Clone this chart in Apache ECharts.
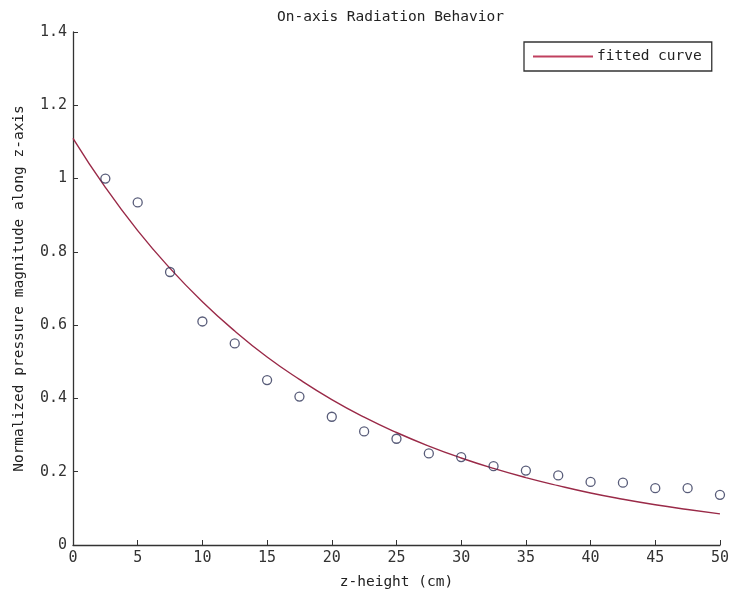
<!DOCTYPE html>
<html>
<head>
<meta charset="utf-8">
<script src="https://cdn.jsdelivr.net/npm/echarts@6/dist/echarts.min.js"></script>
<style>
html,body{margin:0;padding:0;background:#fff;}
#chart{width:732px;height:597px;}
</style>
</head>
<body>
<div id="chart"></div>
<script>
var zHeights = [2.5, 5, 7.5, 10, 12.5, 15, 17.5, 20, 22.5, 25, 27.5, 30, 32.5, 35, 37.5, 40, 42.5, 45, 47.5, 50];
var measured = [1.0, 0.935, 0.745, 0.61, 0.55, 0.45, 0.405, 0.35, 0.31, 0.29, 0.25, 0.24, 0.215, 0.203, 0.19, 0.172, 0.17, 0.155, 0.155, 0.137];
var fitX = [0, 2.5, 5, 7.5, 10, 12.5, 15, 17.5, 20, 22.5, 25, 27.5, 30, 32.5, 35, 37.5, 40, 42.5, 45, 47.5, 50];
var fitY = [1.11, 0.976, 0.858, 0.755, 0.664, 0.584, 0.513, 0.452, 0.397, 0.349, 0.307, 0.270, 0.2375, 0.209, 0.184, 0.162, 0.142, 0.125, 0.110, 0.097, 0.085];
var xTicks = [0, 5, 10, 15, 20, 25, 30, 35, 40, 45, 50];
var yTicks = [0, 0.2, 0.4, 0.6, 0.8, 1, 1.2, 1.4];

var FONT = 'DejaVu Sans Mono';
var chart = echarts.init(document.getElementById('chart'), null, {renderer: 'canvas'});

var scatterData = zHeights.map(function (x, i) { return [x, measured[i]]; });
var fitData = fitX.map(function (x, i) { return [x, fitY[i]]; });

chart.setOption({
  animation: false,
  backgroundColor: '#ffffff',
  title: {
    text: 'On-axis Radiation Behavior',
    left: 272,
    top: 5,
    textStyle: {fontFamily: FONT, fontSize: 14.5, fontWeight: 'normal', color: '#222'}
  },
  grid: {left: 73, right: 11, top: 32, bottom: 52, containLabel: false},
  legend: {
    data: [{name: 'fitted curve', icon: 'rect'}],
    left: 524,
    top: 42,
    itemWidth: 60,
    itemHeight: 2,
    itemGap: 4,
    padding: [7, 10, 7, 9],
    borderColor: '#333',
    borderWidth: 1.3,
    textStyle: {fontFamily: FONT, fontSize: 14.5, color: '#222', padding: [0, 0, 0, -1]}
  },
  xAxis: {
    type: 'value',
    min: 0, max: 50, interval: 5,
    name: 'z-height (cm)',
    nameLocation: 'middle',
    nameGap: 30,
    nameTextStyle: {fontFamily: FONT, fontSize: 14.5, color: '#222'},
    axisLine: {show: true, lineStyle: {color: '#333', width: 1.3}},
    axisTick: {show: true, inside: true, length: 5, lineStyle: {color: '#333'}},
    axisLabel: {
      margin: 6, fontFamily: FONT, fontSize: 15, color: '#333',
      customValues: xTicks,
      formatter: function (v) { return String(v); }
    },
    splitLine: {show: false}
  },
  yAxis: {
    type: 'value',
    min: 0, max: 1.4, interval: 0.2,
    name: 'Normalized pressure magnitude along z-axis',
    nameLocation: 'middle',
    nameGap: 46,
    nameTextStyle: {fontFamily: FONT, fontSize: 14.5, color: '#222'},
    axisLine: {show: true, lineStyle: {color: '#333', width: 1.3}},
    axisTick: {show: true, inside: true, length: 5, lineStyle: {color: '#333'}},
    axisLabel: {
      margin: 6, fontFamily: FONT, fontSize: 15, color: '#333',
      formatter: function (v) {
        for (var i = 0; i < yTicks.length; i++) {
          if (Math.abs(yTicks[i] - v) < 1e-9) return String(yTicks[i]);
        }
        return '';
      }
    },
    splitLine: {show: false}
  },
  series: [
    {
      name: 'measured',
      type: 'scatter',
      data: scatterData,
      symbol: 'circle',
      symbolSize: 9,
      itemStyle: {color: 'rgba(255,255,255,0)', borderColor: '#2e3358', borderWidth: 1.3},
      z: 3
    },
    {
      name: 'fitted curve',
      type: 'line',
      data: fitData,
      smooth: true,
      showSymbol: false,
      symbol: 'none',
      lineStyle: {color: '#9a2a48', width: 1.4},
      itemStyle: {color: '#c0405f'},
      z: 2
    }
  ]
});
</script>
</body>
</html>
